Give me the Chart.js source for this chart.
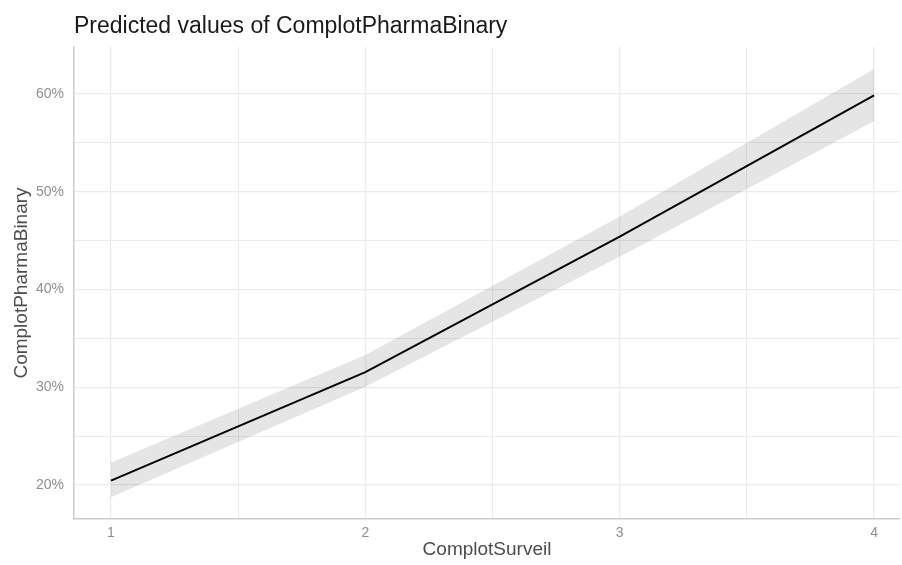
<!DOCTYPE html>
<html>
<head>
<meta charset="utf-8">
<script src="https://cdn.jsdelivr.net/npm/chart.js@4.4.1/dist/chart.umd.min.js"></script>
<style>
  html, body { margin: 0; padding: 0; background: #ffffff; }
  #wrap { width: 902px; height: 565px; position: relative; }
</style>
</head>
<body>
<div id="wrap"><canvas id="c" width="902" height="565"></canvas></div>
<script>
// ---- data ----
const xValues = [1, 2, 3, 4];
const predicted = [20.44, 31.55, 45.4, 59.85];
const ciLow = [18.74, 30.06, 43.35, 57.2];
const ciHigh = [22.3, 33.3, 47.45, 62.55];
const xTicks = [1, 1.5, 2, 2.5, 3, 3.5, 4];
const xTickLabels = ['1', '', '2', '', '3', '', '4'];
const yTicks = [20, 25, 30, 35, 40, 45, 50, 55, 60];
const yTickLabels = ['20%', '', '30%', '', '40%', '', '50%', '', '60%'];
const titleText = 'Predicted values of ComplotPharmaBinary';
const xTitle = 'ComplotSurveil';
const yTitle = 'ComplotPharmaBinary';

const FONT = '"Liberation Sans", Arial, Helvetica, sans-serif';

const toPts = arr => xValues.map((x, i) => ({ x: x, y: arr[i] }));

const titlePlugin = {
  id: 'plotTitle',
  afterDraw(chart) {
    const ctx = chart.ctx;
    ctx.save();
    ctx.font = '23px ' + FONT;
    ctx.fillStyle = '#1a1a1a';
    ctx.textBaseline = 'alphabetic';
    ctx.textAlign = 'left';
    ctx.fillText(titleText, chart.chartArea.left, 33);
    ctx.restore();
  }
};

new Chart(document.getElementById('c'), {
  type: 'line',
  data: {
    datasets: [
      {
        label: 'low',
        data: toPts(ciLow),
        borderWidth: 0,
        pointRadius: 0,
        fill: false,
        backgroundColor: 'rgba(0,0,0,0.1)'
      },
      {
        label: 'high',
        data: toPts(ciHigh),
        borderWidth: 0,
        pointRadius: 0,
        fill: '-1',
        backgroundColor: 'rgba(0,0,0,0.1)'
      },
      {
        label: 'predicted',
        data: toPts(predicted),
        borderColor: '#000000',
        borderWidth: 2,
        pointRadius: 0,
        fill: false
      }
    ]
  },
  plugins: [titlePlugin],
  options: {
    responsive: false,
    animation: false,
    layout: { padding: { top: 47, right: 2, left: 0, bottom: 0 } },
    plugins: { legend: { display: false }, tooltip: { enabled: false }, title: { display: false } },
    scales: {
      x: {
        type: 'linear',
        min: 0.8545,
        max: 4.102,
        afterBuildTicks: s => { s.ticks = xTicks.map(v => ({ value: v })); },
        afterFit: s => { s.height = 46; },
        ticks: {
          autoSkip: false,
          maxRotation: 0,
          padding: 6,
          color: '#8f8f8f',
          font: { family: FONT, size: 14 },
          callback: (v) => { const i = xTicks.indexOf(v); return i >= 0 ? xTickLabels[i] : ''; }
        },
        grid: {
          drawTicks: false,
          tickLength: 0,
          color: '#ebebeb',
          lineWidth: (c) => (c.tick && Number.isInteger(c.tick.value)) ? 1.3 : 1
        },
        border: { display: true, color: '#cccccc', width: 1.5 },
        title: { display: true, text: xTitle, color: '#4d4d4d', font: { family: FONT, size: 19 }, padding: { top: 0, bottom: 3.5 } }
      },
      y: {
        type: 'linear',
        min: 16.52,
        max: 64.8,
        afterBuildTicks: s => { s.ticks = yTicks.map(v => ({ value: v })); },
        afterFit: s => { s.width = 74; },
        ticks: {
          autoSkip: false,
          padding: 10,
          color: '#8f8f8f',
          font: { family: FONT, size: 14 },
          callback: (v) => { const i = yTicks.indexOf(v); return i >= 0 ? yTickLabels[i] : ''; }
        },
        grid: {
          drawTicks: false,
          tickLength: 0,
          color: '#ebebeb',
          lineWidth: (c) => (c.tick && c.tick.value % 10 === 0) ? 1.3 : 1
        },
        border: { display: true, color: '#cccccc', width: 1.5 },
        title: { display: true, text: yTitle, color: '#4d4d4d', font: { family: FONT, size: 19 }, padding: { top: 10, bottom: 0 } }
      }
    }
  }
});
</script>
</body>
</html>
